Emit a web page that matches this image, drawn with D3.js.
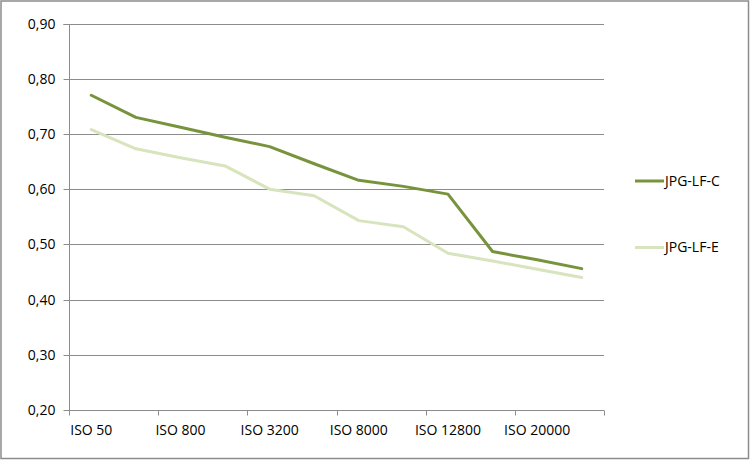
<!DOCTYPE html>
<html>
<head>
<meta charset="utf-8">
<script src="https://cdn.jsdelivr.net/npm/d3@7/dist/d3.min.js"></script>
<style>
  html, body { margin: 0; padding: 0; background: #fff; }
  svg { display: block; }
  text { font-family: "Open Sans", "Segoe UI", sans-serif; font-size: 14px; fill: #000; }
</style>
</head>
<body>
<svg id="chart" width="750" height="460"></svg>
<script>
const categories = ["ISO 50", "ISO 100", "ISO 800", "ISO 1600", "ISO 3200", "ISO 6400",
                    "ISO 8000", "ISO 10000", "ISO 12800", "ISO 16000", "ISO 20000", "ISO 25600"];
const tickLabels = ["ISO 50", "ISO 800", "ISO 3200", "ISO 8000", "ISO 12800", "ISO 20000"];
const seriesNames = ["JPG-LF-C", "JPG-LF-E"];
const valuesC = [0.770, 0.730, 0.712, 0.694, 0.677, 0.646, 0.616, 0.605, 0.591, 0.487, 0.472, 0.456];
const valuesE = [0.708, 0.673, 0.657, 0.642, 0.600, 0.588, 0.543, 0.532, 0.484, 0.470, 0.455, 0.440];
const yTicks = [0.20, 0.30, 0.40, 0.50, 0.60, 0.70, 0.80, 0.90];
const colors = ["#77933C", "#D7E4BD"];

const svg = d3.select("#chart");
const W = 750, H = 460;
const plot = { left: 69, right: 604, top: 23.5, bottom: 410 };

// outer border
svg.append("rect").attr("x", 1).attr("y", 1).attr("width", W - 2.5).attr("height", H - 2.5)
  .attr("fill", "#fff").attr("stroke", "#8c8c8c").attr("stroke-width", 1.5);

const x = d3.scaleBand().domain(categories).range([plot.left, plot.right]).padding(0);
const y = d3.scaleLinear().domain([0.2, 0.9]).range([plot.bottom, plot.top]);

// gridlines
svg.append("g").selectAll("line").data(yTicks.filter(d => d > 0.2)).join("line")
  .attr("x1", plot.left).attr("x2", plot.right)
  .attr("y1", d => Math.round(y(d)) + 0.5).attr("y2", d => Math.round(y(d)) + 0.5)
  .attr("stroke", "#8c8c8c").attr("stroke-width", 1);

// y axis
const yAxis = d3.axisLeft(y).tickValues(yTicks).tickSize(6).tickPadding(8)
  .tickFormat(d => d3.format(".2f")(d).replace(".", ","));
const gy = svg.append("g").attr("transform", `translate(${plot.left + 0.5},0.5)`).call(yAxis);
gy.select(".domain").attr("stroke", "#8c8c8c").attr("d", `M-6,${Math.round(y(0.9))}H0V${Math.round(y(0.2))}`);
gy.selectAll(".tick line").attr("stroke", "#8c8c8c");
gy.selectAll(".tick").attr("transform", d => `translate(0,${Math.round(y(d))})`);
gy.selectAll("text").style("font-family", "'Open Sans', sans-serif").style("font-size", "14px").attr("fill", "#000");

// x axis
const xb = Math.round(plot.bottom) + 0.5;
const gx = svg.append("g");
gx.append("line").attr("x1", plot.left).attr("x2", plot.right).attr("y1", xb).attr("y2", xb)
  .attr("stroke", "#8c8c8c");
const boundaries = d3.range(0, categories.length + 1, 2).map(i =>
  i < categories.length ? x(categories[i]) : x(categories[categories.length - 1]) + x.bandwidth());
gx.selectAll("line.tk").data(boundaries).join("line").attr("class", "tk")
  .attr("x1", d => Math.round(d) + 0.5).attr("x2", d => Math.round(d) + 0.5)
  .attr("y1", xb).attr("y2", xb + 5).attr("stroke", "#8c8c8c");
gx.selectAll("text").data(tickLabels).join("text")
  .attr("x", d => x(d) + x.bandwidth() / 2).attr("y", 435)
  .attr("text-anchor", "middle").text(d => d);

// lines
const line = d3.line().x((d, i) => x(categories[i]) + x.bandwidth() / 2).y(d => y(d));
[valuesC, valuesE].forEach((vals, k) => {
  svg.append("path").datum(vals).attr("d", line)
    .attr("fill", "none").attr("stroke", colors[k]).attr("stroke-width", 3)
    .attr("stroke-linejoin", "round").attr("stroke-linecap", "round");
});

// legend
const legY = [181, 247.5];
seriesNames.forEach((name, k) => {
  svg.append("line").attr("x1", 635).attr("x2", 664).attr("y1", legY[k]).attr("y2", legY[k])
    .attr("stroke", colors[k]).attr("stroke-width", 3);
  svg.append("text").attr("x", 665).attr("y", legY[k]).attr("dy", "0.35em").text(name);
});
</script>
</body>
</html>
